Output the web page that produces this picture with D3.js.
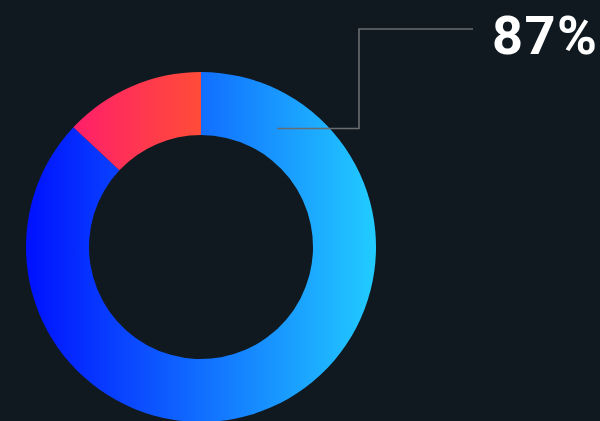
<!DOCTYPE html>
<html>
<head>
<meta charset="utf-8">
<script src="https://cdn.jsdelivr.net/npm/d3@7"></script>
<style>
  html, body { margin: 0; padding: 0; background: #111920; overflow: hidden; }
</style>
</head>
<body>
<script>
const w = 600, h = 421;
const cx = 201, cy = 247, outer = 175, inner = 112;

const labels = ['main', 'rest'];
const values = [87, 13];
const stops = [['#0010ff', '#22ccff'], ['#ff1f6a', '#ff4c38']];

const svg = d3.select('body').append('svg')
    .attr('width', w)
    .attr('height', h);

const defs = svg.append('defs');
stops.forEach((s, i) => {
    const g = defs.append('linearGradient')
        .attr('id', 'grad' + i)
        .attr('x1', '0%').attr('x2', '100%')
        .attr('y1', '0%').attr('y2', '0%');
    g.append('stop').attr('offset', '0%').attr('stop-color', s[0]);
    g.append('stop').attr('offset', '100%').attr('stop-color', s[1]);
});

const pie = d3.pie().sort(null).value(d => d);
const arc = d3.arc().innerRadius(inner).outerRadius(outer);

const g = svg.append('g').attr('transform', `translate(${cx},${cy})`);
g.selectAll('path')
    .data(pie(values))
    .join('path')
    .attr('d', arc)
    .attr('fill', (d, i) => `url(#grad${i})`);

// leader line
const pts = [[277, 128.5], [359, 128.5], [359, 29], [473, 29]];
svg.append('path')
    .attr('d', d3.line()(pts))
    .attr('fill', 'none')
    .attr('stroke', '#6a6d70')
    .attr('stroke-width', 1.6);

svg.append('text')
    .attr('x', 492)
    .attr('y', 54)
    .attr('fill', '#ffffff')
    .attr('font-family', 'Roboto, sans-serif')
    .attr('font-weight', 'bold')
    .attr('font-size', 54)
    .attr('letter-spacing', 1.5)
    .text(values[0] + '%');
</script>
</body>
</html>
